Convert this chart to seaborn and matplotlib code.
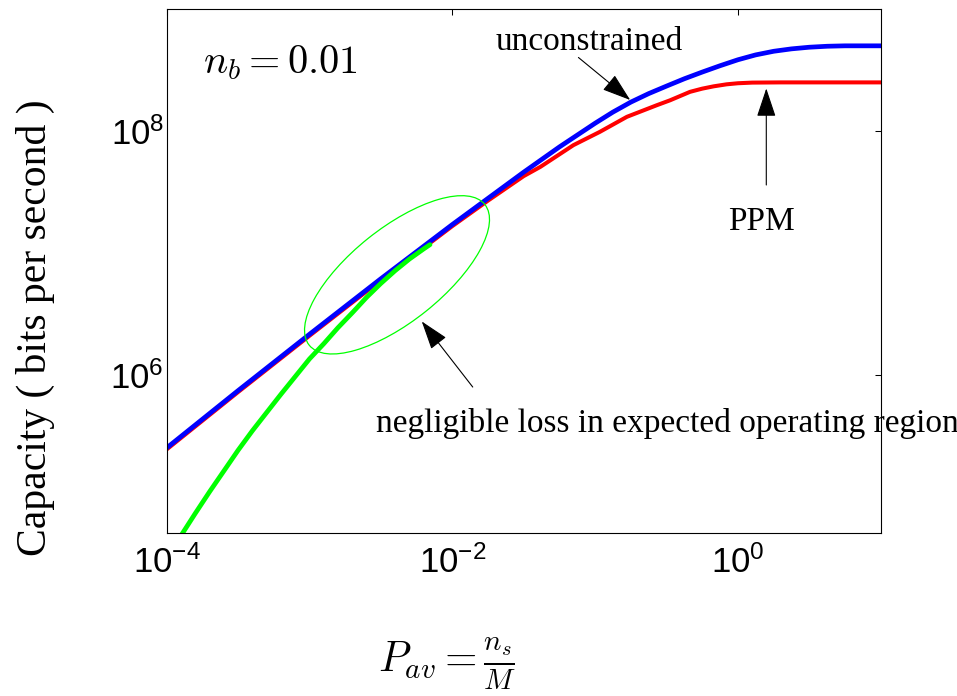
import matplotlib
matplotlib.use("Agg")
import numpy as np
import pandas as pd
import matplotlib.pyplot as plt
import matplotlib.transforms as mtransforms
from matplotlib.patches import Ellipse
import seaborn as sns

# unconstrained capacity (blue)
p_unconstrained = [1.00e-4, 3.16e-4, 1.00e-3, 3.16e-3, 1.00e-2, 3.16e-2, 5.62e-2,
                   0.100, 0.133, 0.178, 0.237, 0.316, 0.422, 0.562, 0.750, 1.00,
                   1.33, 1.78, 2.37, 3.16, 4.22, 5.62, 10.0]
cap_unconstrained = [2.51e5, 7.41e5, 2.15e6, 6.14e6, 1.71e7, 4.60e7, 7.41e7,
                     1.16e8, 1.43e8, 1.73e8, 2.03e8, 2.34e8, 2.69e8, 3.05e8,
                     3.44e8, 3.85e8, 4.22e8, 4.52e8, 4.73e8, 4.88e8, 4.97e8,
                     5.01e8, 5.01e8]

# PPM capacity (red)
p_ppm = [1.00e-4, 3.16e-4, 1.00e-3, 3.16e-3, 1.00e-2, 1.78e-2, 3.16e-2, 4.14e-2,
         7.05e-2, 0.108, 0.167, 0.270, 0.335, 0.462, 0.562, 0.676, 0.832, 1.00,
         1.26, 2.00, 10.0]
cap_ppm = [2.44e5, 7.21e5, 2.09e6, 5.97e6, 1.66e7, 2.69e7, 4.27e7, 5.09e7,
           7.67e7, 9.86e7, 1.31e8, 1.63e8, 1.79e8, 2.10e8, 2.23e8, 2.33e8,
           2.42e8, 2.47e8, 2.50e8, 2.51e8, 2.51e8]

# low power curve (green)
p_low = [1.12e-4, 1.26e-4, 1.58e-4, 2.00e-4, 2.51e-4, 3.16e-4, 3.98e-4, 5.01e-4,
         6.31e-4, 7.94e-4, 1.00e-3, 1.26e-3, 1.58e-3, 2.00e-3, 2.51e-3, 3.16e-3,
         3.98e-3, 5.01e-3, 6.31e-3, 6.98e-3]
cap_low = [3.89e4, 4.79e4, 7.24e4, 1.10e5, 1.62e5, 2.40e5, 3.47e5, 4.90e5,
           6.92e5, 9.66e5, 1.35e6, 1.80e6, 2.43e6, 3.24e6, 4.32e6, 5.62e6,
           7.16e6, 8.91e6, 1.08e7, 1.17e7]

x_ticks = [1e-4, 1e-2, 1e0]
y_ticks = [1e6, 1e8]
x_limits = (1e-4, 1e1)
y_limits = (5e4, 1e9)

SERIF = ["Liberation Serif", "DejaVu Serif"]

sns.set_style("white")
plt.rcParams["font.family"] = ["Liberation Sans", "DejaVu Sans"]
plt.rcParams["text.color"] = "black"
plt.rcParams["xtick.color"] = "black"
plt.rcParams["ytick.color"] = "black"
plt.rcParams["axes.labelcolor"] = "black"

fig = plt.figure(figsize=(9.57, 6.96), dpi=100)
ax = fig.add_axes([0.1742, 0.2338, 0.7461, 0.7529])

sns.lineplot(x=p_ppm, y=cap_ppm, color="#ff0000", lw=2.9, ax=ax,
             estimator=None, sort=False)
sns.lineplot(x=p_unconstrained, y=cap_unconstrained, color="#0000ff", lw=3.4,
             ax=ax, estimator=None, sort=False)
sns.lineplot(x=p_low, y=cap_low, color="#00ff00", lw=3.4, ax=ax,
             estimator=None, sort=False)

ax.set_xscale("log")
ax.set_yscale("log")
ax.set_xlim(*x_limits)
ax.set_ylim(*y_limits)
ax.set_xticks(x_ticks)
ax.set_yticks(y_ticks)
ax.minorticks_off()
ax.tick_params(which="both", direction="in", top=True, right=True,
               length=4.3, width=0.75, labelsize=25, color="k",
               labelcolor="k")
ax.tick_params(axis="x", pad=9)
ax.tick_params(axis="y", pad=2)
for s in ax.spines.values():
    s.set_linewidth(0.8)
    s.set_color("k")
ax.set_xlabel("")
ax.set_ylabel("")

# ellipse around the operating region
ell_trans = fig.dpi_scale_trans + mtransforms.ScaledTranslation(4.10e-3, 6.61e6, ax.transData)
ax.add_patch(Ellipse((0, 0), width=2.25, height=0.93, angle=38.7,
                     transform=ell_trans, fill=False, ec="#00ff00", lw=0.9,
                     zorder=5))

arrow_kw = dict(arrowstyle="-|>,head_length=0.9,head_width=0.3",
                mutation_scale=20, color="k", lw=0.8, shrinkA=0, shrinkB=0)
ax.annotate("", xy=(0.176, 1.80e8), xytext=(7.64e-2, 4.02e8), arrowprops=arrow_kw)
ax.annotate("", xy=(1.58, 2.24e8), xytext=(1.58, 3.61e7), arrowprops=arrow_kw)
ax.annotate("", xy=(6.11e-3, 2.74e6), xytext=(1.39e-2, 7.93e5), arrowprops=arrow_kw)

ax.text(2.0e-2, 4.61e8, "unconstrained", family=SERIF, fontsize=24,
        ha="left", va="baseline")
ax.text(1.46, 1.55e7, "PPM", family=SERIF, fontsize=24, ha="center", va="baseline")
ax.text(2.92e-3, 3.37e5, "negligible loss in expected operating region",
        family=SERIF, fontsize=24, ha="left", va="baseline")
ax.text(0.0513, 0.879, r"$n_b = 0.01$", transform=ax.transAxes, fontsize=29,
        math_fontfamily="cm", ha="left", va="baseline")

fig.text(0.0366, 0.529, "Capacity ( bits per second )", family=SERIF,
         fontsize=30, rotation=90, ha="center", va="center")
fig.text(0.467, 0.034, r"$P_{av} = \frac{n_s}{M}$", fontsize=30,
         math_fontfamily="cm", ha="center", va="baseline")

fig.savefig("out.png", dpi=100)
